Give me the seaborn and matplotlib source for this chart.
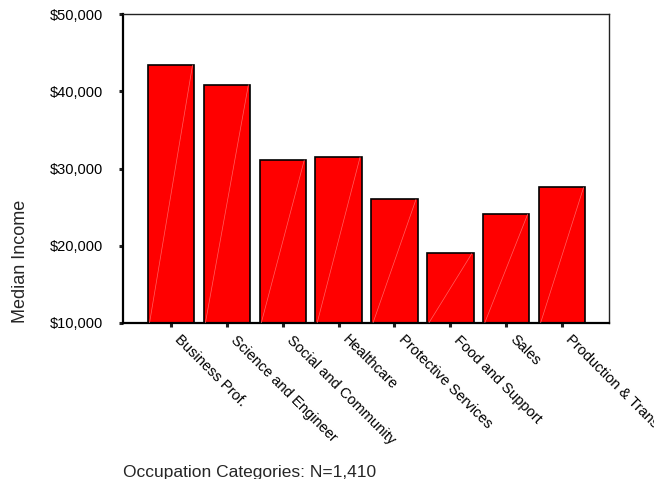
import matplotlib
matplotlib.use("Agg")
import matplotlib.pyplot as plt
import matplotlib.ticker as mticker
import matplotlib.transforms as mtransforms
import seaborn as sns
import pandas as pd

# Median income by occupation category
categories = ["Business Prof.", "Science and Engineer", "Social and Community",
              "Healthcare", "Protective Services", "Food and Support",
              "Sales", "Production & Trans"]
median_income = [43400, 40850, 31100, 31500, 26000, 19000, 24100, 27550]
y_ticks = [10000, 20000, 30000, 40000, 50000]

df = pd.DataFrame({"category": categories, "income": median_income})

sns.set_theme(style="ticks")
plt.rcParams["font.family"] = ["Liberation Sans", "DejaVu Sans"]

fig = plt.figure(figsize=(6.54, 4.79), dpi=100)
ax = fig.add_axes([123 / 654, 1 - 323 / 479, 486 / 654, 309 / 479])

sns.barplot(data=df, x="category", y="income", order=categories,
            color="#ff0000", saturation=1, width=0.83,
            edgecolor="black", linewidth=1.2, ax=ax, zorder=2)

# faint diagonal highlight across each bar
for p in ax.patches:
    x0, y0 = p.get_x(), max(p.get_y(), y_ticks[0])
    x1, y1 = x0 + p.get_width(), p.get_y() + p.get_height()
    ax.plot([x0 + 0.03, x1 - 0.03], [y0, y1], color="#ff7a7a",
            linewidth=0.5, alpha=0.8, zorder=3)

ax.set_xlim(-0.86, 7.84)
ax.set_ylim(y_ticks[0], y_ticks[-1])
ax.set_yticks(y_ticks)
ax.yaxis.set_major_formatter(mticker.StrMethodFormatter("${x:,.0f}"))

for side in ["left", "bottom"]:
    ax.spines[side].set_linewidth(1.6)
    ax.spines[side].set_color("black")
for side in ["top", "right"]:
    ax.spines[side].set_visible(True)
    ax.spines[side].set_linewidth(1.0)
    ax.spines[side].set_color("#222222")

ax.tick_params(axis="y", direction="out", length=3, width=2.2,
               color="#222222", labelsize=10.5, pad=11, labelcolor="black")
ax.tick_params(axis="x", direction="out", length=3, width=2.2,
               color="#222222", labelsize=10.5, pad=7.5, labelcolor="black")
shift = mtransforms.ScaledTranslation(0.06, 0, fig.dpi_scale_trans)
for lab in ax.get_xticklabels():
    lab.set_rotation(-45)
    lab.set_ha("left")
    lab.set_va("center")
    lab.set_rotation_mode("anchor")
    lab.set_transform(lab.get_transform() + shift)

ax.set_ylabel("Median Income", fontsize=13, va="center")
ax.yaxis.set_label_coords((21 - 123) / 486, (323 - 261) / 309)
ax.set_xlabel("Occupation Categories: N=1,410", fontsize=12.5,
              ha="left", va="center")
ax.xaxis.set_label_coords(0, (323 - 472) / 309)

fig.savefig("out.png", dpi=100)
